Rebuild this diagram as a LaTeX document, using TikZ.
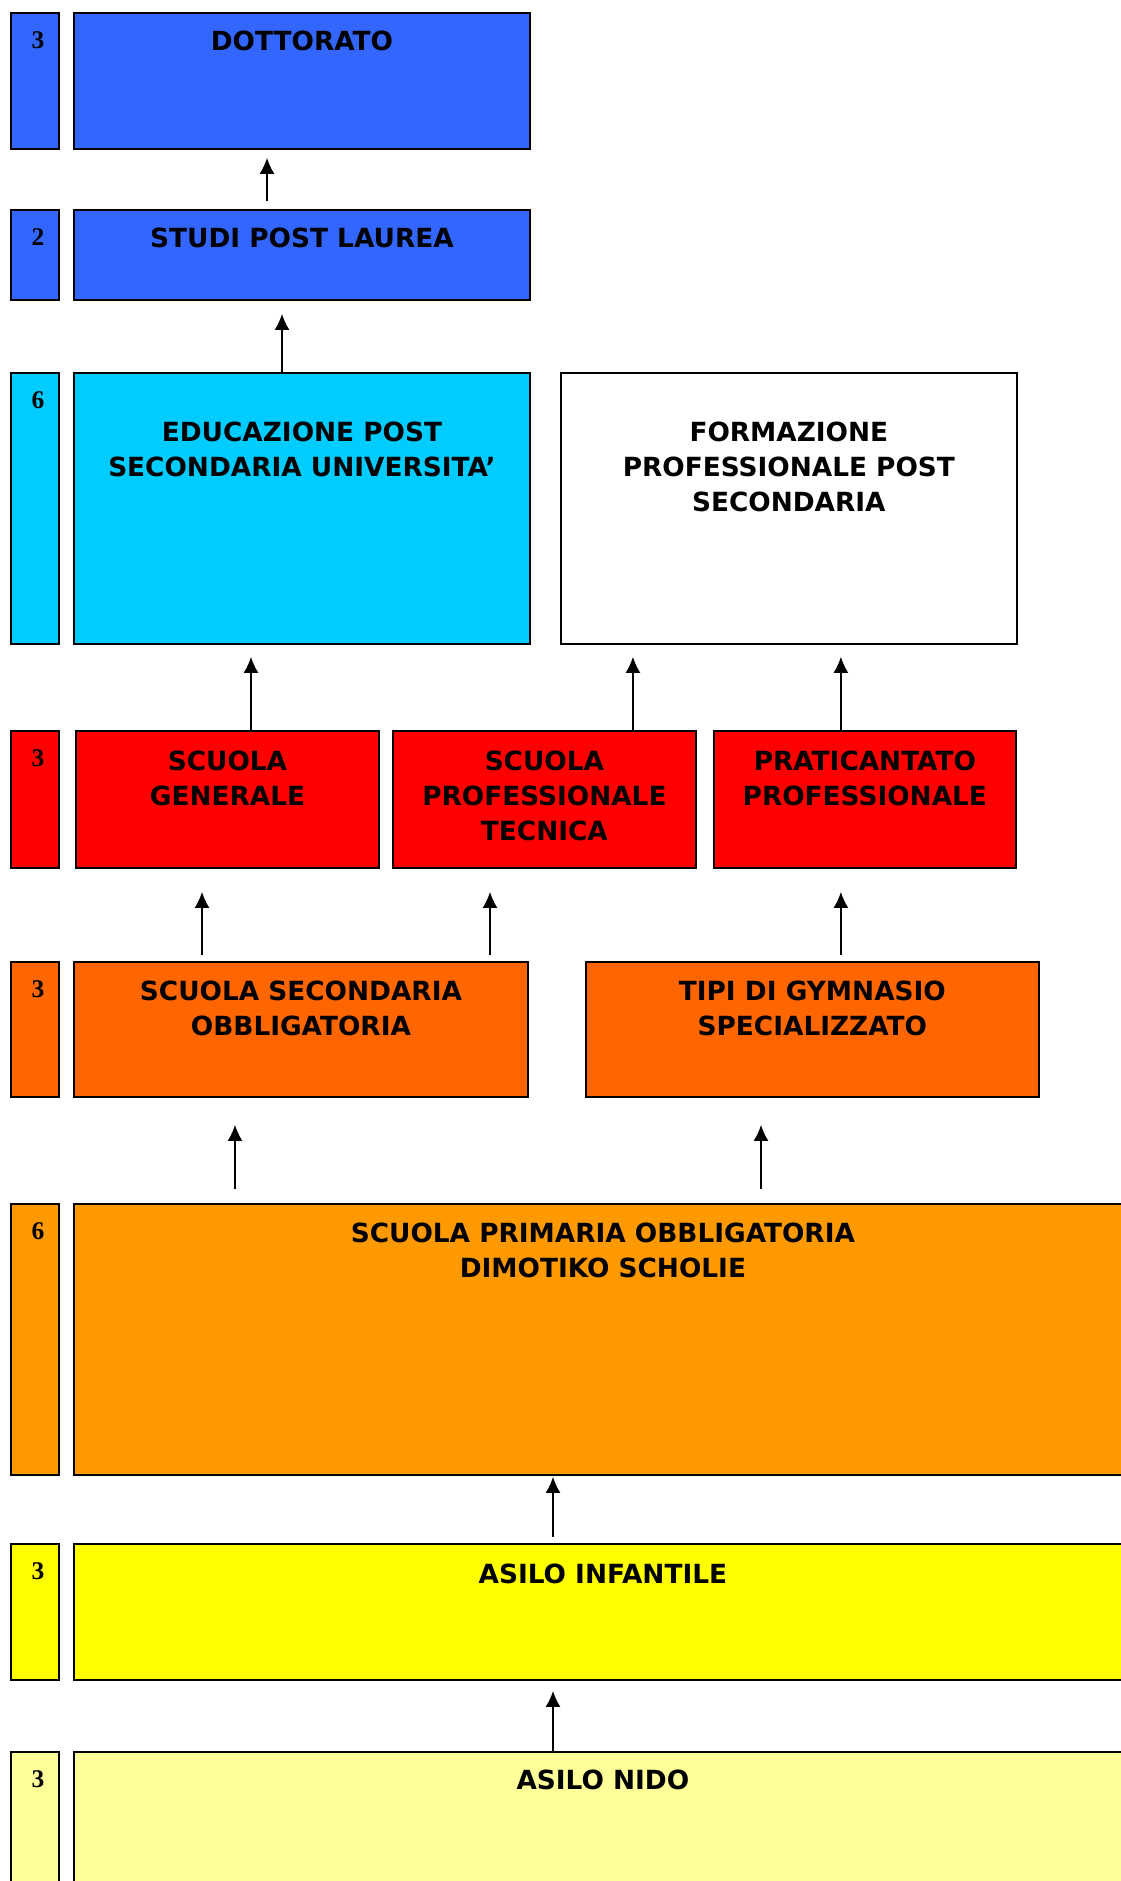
\documentclass[tikz,border=0pt]{standalone}
\usepackage{fontspec}
\setmainfont{Liberation Serif}
\newfontfamily\verdana{DejaVu Sans}
\usetikzlibrary{arrows.meta,positioning,calc}
\definecolor{cblue}{HTML}{3366FF}
\definecolor{ccyan}{HTML}{00CCFF}
\definecolor{cred}{HTML}{FF0000}
\definecolor{corange}{HTML}{FF6600}
\definecolor{camber}{HTML}{FF9900}
\definecolor{cyellow}{HTML}{FFFF00}
\definecolor{cpale}{HTML}{FFFF99}

\begin{document}
\begin{tikzpicture}[
  x=0.02cm, y=-0.02cm,
  box/.style={draw,line width=1.1pt,inner sep=0pt,outer sep=0pt,anchor=north west},
  yr/.style={box,minimum width=0.96cm},
  txt/.style={align=center,inner sep=0pt,font=\verdana\bfseries\fontsize{15}{19.8}\selectfont},
  num/.style={inner sep=0pt,xshift=0.06cm,font=\bfseries\fontsize{14.5}{16}\selectfont},
  ar/.style={-{Latex[length=0.32cm,width=0.3cm]},line width=0.75pt}
]
\useasboundingbox (0,0) rectangle (1120,1881);

% dottorato / post laurea
\node[box,fill=cblue,minimum width=9.12cm,minimum height=2.72cm] (dott) at (74,13) {};
\node[yr,fill=cblue,minimum height=2.72cm,left=0.3cm of dott.north west,anchor=north east] (y1) {};
\node[box,fill=cblue,minimum width=9.12cm,minimum height=1.8cm] (post) at (74,210) {};
\node[yr,fill=cblue,minimum height=1.8cm,left=0.3cm of post.north west,anchor=north east] (y2) {};

% post secondaria
\node[box,fill=ccyan,minimum width=9.12cm,minimum height=5.42cm] (univ) at (74,373) {};
\node[yr,fill=ccyan,minimum height=5.42cm,left=0.3cm of univ.north west,anchor=north east] (y3) {};
\node[box,fill=white,minimum width=9.12cm,minimum height=5.42cm,right=0.62cm of univ.north east,anchor=north west] (form) {};

% secondaria superiore
\node[box,fill=cred,minimum width=6.06cm,minimum height=2.74cm] (gen) at (76,731) {};
\node[yr,fill=cred,minimum height=2.74cm,left=0.34cm of gen.north west,anchor=north east] (y4) {};
\node[box,fill=cred,minimum width=6.06cm,minimum height=2.74cm,right=0.28cm of gen.north east,anchor=north west] (prof) {};
\node[box,fill=cred,minimum width=6.04cm,minimum height=2.74cm,right=0.36cm of prof.north east,anchor=north west] (prat) {};

% secondaria inferiore
\node[box,fill=corange,minimum width=9.08cm,minimum height=2.7cm] (sec) at (74,962) {};
\node[yr,fill=corange,minimum height=2.7cm,left=0.3cm of sec.north west,anchor=north east] (y5) {};
\node[box,fill=corange,minimum width=9.06cm,minimum height=2.7cm,right=1.16cm of sec.north east,anchor=north west] (gym) {};

% primaria, infanzia
\node[box,fill=camber,minimum width=21.16cm,minimum height=5.42cm] (prim) at (74,1204) {};
\node[yr,fill=camber,minimum height=5.42cm,left=0.3cm of prim.north west,anchor=north east] (y6) {};
\node[box,fill=cyellow,minimum width=21.16cm,minimum height=2.72cm] (inf) at (74,1544) {};
\node[yr,fill=cyellow,minimum height=2.72cm,left=0.3cm of inf.north west,anchor=north east] (y7) {};
\node[box,fill=cpale,minimum width=21.16cm,minimum height=4cm] (nido) at (74,1752) {};
\node[yr,fill=cpale,minimum height=4cm,left=0.3cm of nido.north west,anchor=north east] (y8) {};

% testi
\node[txt,below=0.36cm of dott.north] (dott-t) {DOTTORATO};
\node[txt,below=0.36cm of post.north] (post-t) {STUDI POST LAUREA};
\node[txt,below=0.98cm of univ.north] (univ-t) {EDUCAZIONE POST\\SECONDARIA UNIVERSITA’};
\node[txt,below=0.98cm of form.north] (form-t) {FORMAZIONE\\PROFESSIONALE POST\\SECONDARIA};
\node[txt,below=0.4cm of gen.north] (gen-t) {SCUOLA\\GENERALE};
\node[txt,below=0.4cm of prof.north] (prof-t) {SCUOLA\\PROFESSIONALE\\TECNICA};
\node[txt,below=0.4cm of prat.north] (prat-t) {PRATICANTATO\\PROFESSIONALE};
\node[txt,below=0.38cm of sec.north] (sec-t) {SCUOLA SECONDARIA\\OBBLIGATORIA};
\node[txt,below=0.38cm of gym.north] (gym-t) {TIPI DI GYMNASIO\\SPECIALIZZATO};
\node[txt,below=0.38cm of prim.north] (prim-t) {SCUOLA PRIMARIA OBBLIGATORIA\\DIMOTIKO SCHOLIE};
\node[txt,below=0.4cm of inf.north] (inf-t) {ASILO INFANTILE};
\node[txt,below=0.36cm of nido.north] (nido-t) {ASILO NIDO};

% anni
\node[num,below=0.36cm of y1.north] (y1-t) {3};
\node[num,below=0.36cm of y2.north] (y2-t) {2};
\node[num,below=0.36cm of y3.north] (y3-t) {6};
\node[num,below=0.36cm of y4.north] (y4-t) {3};
\node[num,below=0.36cm of y5.north] (y5-t) {3};
\node[num,below=0.36cm of y6.north] (y6-t) {6};
\node[num,below=0.36cm of y7.north] (y7-t) {3};
\node[num,below=0.36cm of y8.north] (y8-t) {3};

% frecce
\draw[ar] ($(post.north west)+(193,-9)$) coordinate (a1) -- ($(a1 |- dott.south)+(0,9)$);
\draw[ar] ($(univ.north west)+(208,0)$) coordinate (a2) -- ($(a2 |- post.south)+(0,14)$);
\draw[ar] ($(gen.north west)+(175,0)$) coordinate (a3) -- ($(a3 |- univ.south)+(0,13)$);
\draw[ar] ($(prof.north west)+(240,0)$) coordinate (a4) -- ($(a4 |- form.south)+(0,13)$);
\draw[ar] ($(prat.north west)+(127,0)$) coordinate (a5) -- ($(a5 |- form.south)+(0,13)$);
\draw[ar] ($(sec.north west)+(128,-7)$) coordinate (a6) -- ($(a6 |- gen.south)+(0,24)$);
\draw[ar] ($(sec.north west)+(416,-7)$) coordinate (a7) -- ($(a7 |- prof.south)+(0,24)$);
\draw[ar] ($(gym.north west)+(255,-7)$) coordinate (a8) -- ($(a8 |- prat.south)+(0,24)$);
\draw[ar] ($(prim.north west)+(161,-15)$) coordinate (a9) -- ($(a9 |- sec.south)+(0,28)$);
\draw[ar] ($(prim.north west)+(687,-15)$) coordinate (a10) -- ($(a10 |- gym.south)+(0,28)$);
\draw[ar] ($(inf.north west)+(479,-7)$) coordinate (a11) -- ($(a11 |- prim.south)+(0,2)$);
\draw[ar] ($(nido.north west)+(479,0)$) coordinate (a12) -- ($(a12 |- inf.south)+(0,11)$);
\end{tikzpicture}
\end{document}
